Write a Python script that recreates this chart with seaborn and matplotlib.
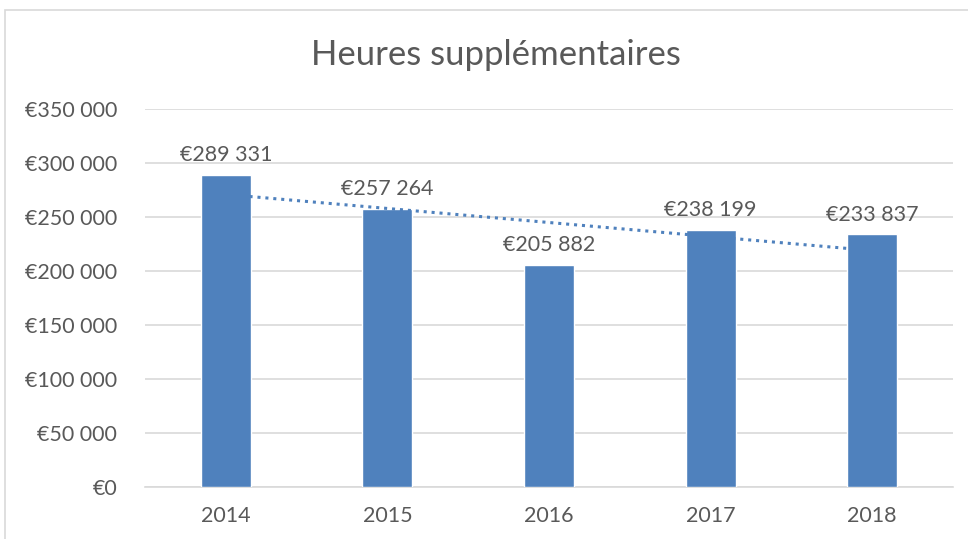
import matplotlib
matplotlib.use("Agg")
import matplotlib.pyplot as plt
import matplotlib.patches as mpatches
from matplotlib.ticker import FuncFormatter, MultipleLocator
import numpy as np
import pandas as pd
import seaborn as sns

years = ["2014", "2015", "2016", "2017", "2018"]
values = [289331, 257264, 205882, 238199, 233837]
title = "Heures supplémentaires"

sns.set_theme(style="white")
plt.rcParams["font.family"] = ["Lato", "DejaVu Sans"]

TEXT = "#595959"
BAR = "#4F81BD"
GRID = "#D9D9D9"

def euro(v):
    s = f"{int(round(v)):,}".replace(",", " ")
    return "€" + s

df = pd.DataFrame({"year": years, "value": values})

fig = plt.figure(figsize=(9.68, 5.39), dpi=100)
ax = fig.add_axes([145/968, 1-487/539, (953-145)/968, (487-109)/539])

sns.barplot(data=df, x="year", y="value", color=BAR, width=0.31, ax=ax,
            saturation=1, zorder=3)

# linear trend line (dotted)
xs = np.arange(len(values))
coef = np.polyfit(xs, values, 1)
trend = np.polyval(coef, xs)
ax.plot(xs, trend, linestyle=(0, (1, 1.6)), color=BAR, linewidth=2.2, zorder=4)

for i, v in enumerate(values):
    ax.annotate(euro(v), (i, v), xytext=(0, 7), textcoords="offset points",
                ha="center", va="bottom", fontsize=15.5, color=TEXT)

ax.set_ylim(0, 350000)
ax.set_xlim(-0.5, len(years) - 0.5)
ax.yaxis.set_major_locator(MultipleLocator(50000))
ax.yaxis.set_major_formatter(FuncFormatter(lambda v, p: euro(v)))
ax.grid(axis="y", color=GRID, linewidth=1.2, zorder=0)
ax.set_axisbelow(True)
for s in ["top", "right", "left"]:
    ax.spines[s].set_visible(False)
ax.spines["bottom"].set_color(GRID)
ax.spines["bottom"].set_linewidth(1.2)
ax.tick_params(axis="both", length=0, labelsize=15.5, colors=TEXT)
ax.tick_params(axis="y", pad=20)
ax.tick_params(axis="x", pad=14)
ax.set_xlabel("")
ax.set_ylabel("")

fig.text(496/968, 1-55/539, title, ha="center", va="center", fontsize=25, color=TEXT)

border = mpatches.Rectangle((5/968, -0.01), 1.0, 1 - 10/539 + 0.01, transform=fig.transFigure,
                            fill=False, edgecolor=GRID, linewidth=1.2)
fig.patches.append(border)

fig.savefig("out.png", dpi=100, facecolor="white")
